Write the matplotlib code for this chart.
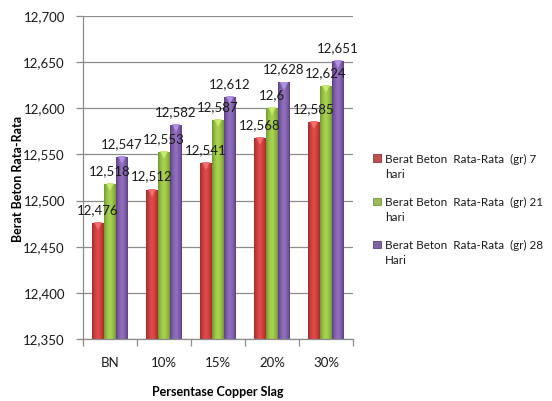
import numpy as np
import matplotlib
matplotlib.use("Agg")
import matplotlib.pyplot as plt
from matplotlib.colors import LinearSegmentedColormap
from matplotlib.patches import Rectangle
from matplotlib.transforms import offset_copy

plt.rcParams['font.family'] = ['Lato', 'DejaVu Sans']

categories = ["BN", "10%", "15%", "20%", "30%"]
series_names = [
    ("Berat Beton  Rata-Rata  (gr) 7", "hari"),
    ("Berat Beton  Rata-Rata  (gr) 21", "hari"),
    ("Berat Beton  Rata-Rata  (gr) 28", "Hari"),
]
hari_7 = [12.476, 12.512, 12.541, 12.568, 12.585]
hari_21 = [12.518, 12.553, 12.587, 12.600, 12.624]
hari_28 = [12.547, 12.582, 12.612, 12.628, 12.651]
y_ticks = [12.35, 12.40, 12.45, 12.50, 12.55, 12.60, 12.65, 12.70]

series = [hari_7, hari_21, hari_28]
# (edge shade, centre shade) for the cylinder-like gradient
shades = [("#a42b2b", "#e04a4a"), ("#6f9a2c", "#a9d150"), ("#5c3f86", "#9070bd")]
bevel = ["#f07070", "#c8e870", "#b090e0"]
base_colors = ["#c0504d", "#9bbb59", "#8064a2"]


def fmt_label(v):
    s = f"{v:.3f}".rstrip("0").rstrip(".")
    return s.replace(".", ",")


W, H = 552, 401
fig = plt.figure(figsize=(W / 100, H / 100), dpi=100)
ax = fig.add_axes([0.1504, 0.1546, 0.4891, 0.8054])

ymin, ymax = 12.35, 12.70
ax.set_ylim(ymin, ymax)
ax.set_xlim(-0.5, len(categories) - 0.5)

x = np.arange(len(categories))
width = 0.222
offsets = [-width, 0, width]

t = np.linspace(0, 1, 64)
prof = 1 - np.abs(2 * t - 1) ** 1.6
bevel_tr = offset_copy(ax.transData, fig=fig, x=0, y=-2.2, units="points")

for vals, off, (ec, cc), bc, bv in zip(series, offsets, shades, base_colors, bevel):
    cmap = LinearSegmentedColormap.from_list("g", [ec, cc])
    bars = ax.bar(x + off, np.array(vals) - ymin, width=width, bottom=ymin,
                  color=bc, edgecolor="none", zorder=2)
    for rect, v in zip(bars, vals):
        x0 = rect.get_x()
        im = ax.imshow(prof[np.newaxis, :], cmap=cmap, aspect="auto",
                       extent=(x0, x0 + width, ymin, v), vmin=0, vmax=1,
                       zorder=2.1, interpolation="bilinear")
        im.set_clip_path(rect)
        # light bevel at the top of each bar
        ax.plot(x0 + width / 2, v, marker="v", markersize=5.5,
                color=bv, markeredgewidth=0, zorder=2.2,
                transform=bevel_tr, clip_on=False)
        ax.annotate(fmt_label(v), (x0 + width / 2, v), xytext=(0, 5),
                    textcoords="offset points", ha="center", va="bottom",
                    fontsize=9.5, color="#1a1a1a", zorder=5)

ax.set_xlim(-0.5, len(categories) - 0.5)
ax.set_ylim(ymin, ymax)

ax.set_yticks(y_ticks)
ax.set_yticklabels([f"{v:.3f}".replace(".", ",") for v in y_ticks],
                   fontsize=9.5, color="#1a1a1a")
ax.set_xticks(x)
ax.set_xticklabels(categories, fontsize=9.5, color="#1a1a1a")
ax.set_xticks(np.arange(-0.5, len(categories)), minor=True)
ax.tick_params(axis="x", which="major", length=0, pad=13)
ax.tick_params(axis="x", which="minor", length=5, color="#8c8c8c", width=0.9)
ax.tick_params(axis="y", length=5, color="#8c8c8c", width=0.9, pad=8)

ax.grid(axis="y", color="#8c8c8c", linewidth=0.9, zorder=0)
ax.set_axisbelow(True)
for side in ("top", "right"):
    ax.spines[side].set_visible(False)
for side in ("left", "bottom"):
    ax.spines[side].set_color("#8c8c8c")
    ax.spines[side].set_linewidth(0.9)

ax.set_xlabel("Persentase Copper Slag", fontsize=9, fontweight="bold",
              labelpad=12)
fig.text(0.033, 0.555, "Berat Beton Rata-Rata", rotation=90, fontsize=9,
         fontweight="bold", ha="center", va="center")

# legend: colour key square beside a two-line caption for each series
key_x, text_x = 373, 385
first_baseline, entry_step, line_step = 163, 43, 15
for i, ((line1, line2), bc, (ec, cc)) in enumerate(zip(series_names, base_colors, shades)):
    base = first_baseline + i * entry_step
    fig.patches.append(Rectangle((key_x / W, 1 - (base - 1) / H), 7.5 / W, 7.5 / H,
                                 transform=fig.transFigure, facecolor=bc,
                                 edgecolor=ec, linewidth=0.6))
    fig.text(text_x / W, 1 - base / H, line1, fontsize=8.4, va="baseline",
             ha="left", color="#1a1a1a")
    fig.text(text_x / W, 1 - (base + line_step) / H, line2, fontsize=8.4,
             va="baseline", ha="left", color="#1a1a1a")

fig.savefig("out.png", dpi=100)
